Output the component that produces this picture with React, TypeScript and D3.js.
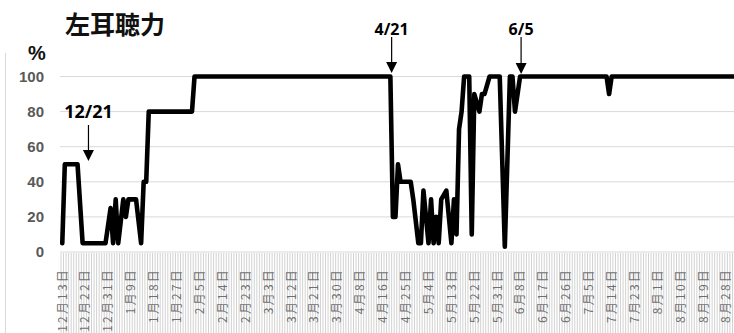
import React from "react";
import * as d3 from "d3";

const W = 734;
const H = 333;

// Category tick labels (every 9th category)
const tickLabels = [
  "12月13日", "12月22日", "12月31日", "1月9日", "1月18日", "1月27日", "2月5日", "2月14日",
  "2月23日", "3月3日", "3月12日", "3月21日", "3月30日", "4月8日", "4月16日", "4月25日",
  "5月4日", "5月13日", "5月22日", "5月31日", "6月8日", "6月17日", "6月26日", "7月5日",
  "7月14日", "7月23日", "8月1日", "8月10日", "8月19日", "8月28日",
];
const tickEvery = 9;
const categoryCount = 265;

// Hearing (%) per category; null = no measurement (line connects across)
const hearing: (number | null)[] = [
  5, 50, 50, 50, 50, 50, 50, null, 5, 5,
  5, 5, 5, 5, 5, 5, 5, 5, null, 25,
  5, 30, 5, null, 30, 20, 30, 30, 30, 30,
  null, 5, 40, 40, 80, 80, 80, 80, 80, 80,
  80, 80, 80, 80, 80, 80, 80, 80, 80, 80,
  80, 80, 100, 100, 100, 100, 100, 100, 100, 100,
  100, 100, 100, 100, 100, 100, 100, 100, 100, 100,
  100, 100, 100, 100, 100, 100, 100, 100, 100, 100,
  100, 100, 100, 100, 100, 100, 100, 100, 100, 100,
  100, 100, 100, 100, 100, 100, 100, 100, 100, 100,
  100, 100, 100, 100, 100, 100, 100, 100, 100, 100,
  100, 100, 100, 100, 100, 100, 100, 100, 100, 100,
  100, 100, 100, 100, 100, 100, 100, 100, 100, 100,
  20, 20, 50, 40, 40, 40, 40, 40, 30, null,
  5, 5, 35, null, 5, 30, 5, 20, 5, 30,
  null, 35, null, 5, 30, 10, 70, 80, 100, 100,
  100, 10, 90, null, 80, 90, 90, null, 100, 100,
  100, 100, 100, null, 3, null, 100, 100, 80, 90,
  100, 100, 100, 100, 100, 100, 100, 100, 100, 100,
  100, 100, 100, 100, 100, 100, 100, 100, 100, 100,
  100, 100, 100, 100, 100, 100, 100, 100, 100, 100,
  100, 100, 100, 100, 100, 90, 100, 100, 100, 100,
  100, 100, 100, 100, 100, 100, 100, 100, 100, 100,
  100, 100, 100, 100, 100, 100, 100, 100, 100, 100,
  100, 100, 100, 100, 100, 100, 100, 100, 100, 100,
  100, 100, 100, 100, 100, 100, 100, 100, 100, 100,
  100, 100, 100, 100, 100,
];

const yTicks = [0, 20, 40, 60, 80, 100];

// Annotations: label, category index the arrow points near
const annotations = [
  { label: "12/21", at: 10.3, textY: 118, top: 125, tip: 161 },
  { label: "4/21", at: 129.5, textY: 35, top: 37, tip: 73 },
  { label: "6/5", at: 180.4, textY: 35, top: 37, tip: 74 },
];

export default function App() {
  const left = 61;
  const right = 735;
  const x = d3
    .scaleBand<number>()
    .domain(d3.range(categoryCount))
    .range([left, right])
    .paddingInner(0)
    .paddingOuter(0);
  const bw = x.bandwidth();
  const cx = (i: number) => left + (i + 0.5) * bw;
  const y = d3.scaleLinear().domain([0, 100]).range([252, 76.5]);

  const pts = hearing
    .map((v, i) => (v === null ? null : ([cx(i), y(v)] as [number, number])))
    .filter((p): p is [number, number] => p !== null);
  const line = d3.line<[number, number]>().x((d) => d[0]).y((d) => d[1]);

  const ticks = tickLabels.map((t, k) => ({ t, i: k * tickEvery }));

  return (
    <svg
      width={W}
      height={H}
      style={{ position: "absolute", left: 0, top: 0, background: "#fff" }}
      fontFamily="'Noto Sans CJK JP', 'Noto Sans', sans-serif"
    >
      <rect x={0} y={0} width={W} height={H} fill="#fff" />
      {/* left border */}
      <line x1={5.5} x2={5.5} y1={53} y2={H} stroke="#d9d9d9" strokeWidth={1} />

      {/* stripes in category label area */}
      {d3.range(categoryCount + 1).map((i) => (
        <line
          key={"s" + i}
          x1={left + i * bw}
          x2={left + i * bw}
          y1={253}
          y2={H}
          stroke="#d2d2d2"
          strokeWidth={1}
        />
      ))}

      {/* gridlines */}
      {yTicks.map((t) => (
        <line
          key={"g" + t}
          x1={60}
          x2={W}
          y1={y(t)}
          y2={y(t)}
          stroke="#d9d9d9"
          strokeWidth={1}
        />
      ))}

      {/* y tick labels */}
      {yTicks.map((t) => (
        <text
          key={"yl" + t}
          x={44}
          y={y(t)}
          dy="0.36em"
          textAnchor="end"
          fontSize={15}
          fontWeight="bold"
          fill="#595959"
          fontFamily="'Liberation Sans', Arial, sans-serif"
        >
          {t}
        </text>
      ))}

      {/* x tick labels */}
      {ticks.map(({ t, i }) => (
        <text
          key={"xl" + i}
          transform={`translate(${cx(i)},268) rotate(-90)`}
          textAnchor="end"
          dy="0.36em"
          fontSize={12}
          letterSpacing={2.2}
          fill="#6f6f6f"
        >
          {t}
        </text>
      ))}

      {/* data line */}
      <path
        d={line(pts) || ""}
        fill="none"
        stroke="#000"
        strokeWidth={4.6}
        strokeLinejoin="round"
        strokeLinecap="round"
      />

      {/* title */}
      <text x={65} y={34} fontSize={25} fontWeight="bold" fill="#111">
        左耳聴力
      </text>
      <text
        x={28}
        y={60}
        fontSize={20}
        fontWeight="bold"
        fill="#111"
        fontFamily="'Liberation Sans', Arial, sans-serif"
      >
        %
      </text>

      {/* annotations */}
      {annotations.map((a) => {
        const ax = cx(a.at);
        return (
          <g key={a.label}>
            <text
              x={ax}
              y={a.textY}
              textAnchor="middle"
              fontSize={a.label === "12/21" ? 18 : 16}
              fontWeight="bold"
              fill="#000"
              fontFamily="'Noto Sans', sans-serif"
            >
              {a.label}
            </text>
            <line x1={ax} x2={ax} y1={a.top} y2={a.tip - 9} stroke="#000" strokeWidth={1.2} />
            <path
              d={`M${ax - 5.5},${a.tip - 11} L${ax + 5.5},${a.tip - 11} L${ax},${a.tip} Z`}
              fill="#000"
            />
          </g>
        );
      })}
    </svg>
  );
}
